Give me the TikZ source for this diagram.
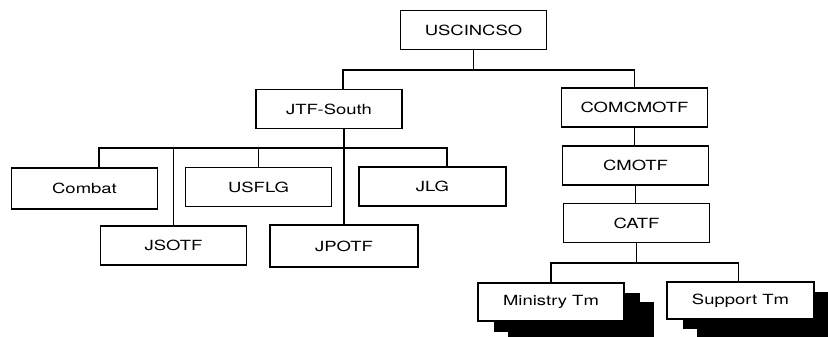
\documentclass[tikz,border=0pt]{standalone}
\usepackage{fontspec}
\setmainfont{TeX Gyre Heros}
\usepackage{graphicx}
\newcommand{\wt}[1]{\scalebox{1.32}[1]{#1}}
\begin{document}
\begin{tikzpicture}[x=1pt,y=-1pt,
  org/.style={draw, line width=1.5pt, fill=white, minimum width=146pt, minimum height=39pt, inner sep=0pt, font=\fontsize{14}{16}\selectfont},
  shad/.style={fill=black, draw=none, minimum width=146pt, minimum height=39pt, inner sep=0pt},
  link/.style={line width=1.7pt}]
\useasboundingbox (0,0) rectangle (828,337);
\clip (0,0) rectangle (828,337);
\fill[white] (0,0) rectangle (828,337);
% boxes
\node[org] (usc) at (473.5,30) {\wt{USCINCSO}};
\node[org] (jtf) at (329,109) {\wt{JTF-South}};
\node[org] (com) at (634.5,107.5) {\wt{COMCMOTF}};
\node[org] (cmo) at (635.5,165.5) {\wt{CMOTF}};
\node[org] (cat) at (636.5,223) {\wt{CATF}};
\node[org, minimum height=41pt] (cbt) at (84.5,188.5) {\wt{Combat}};
\node[org] (usf) at (258.5,187) {\wt{USFLG}};
\node[org, minimum width=147pt] (jlg) at (432.5,186.5) {\wt{JLG}};
\node[org] (jso) at (173.5,245.5) {\wt{JSOTF}};
\node[org, minimum width=148pt, minimum height=42pt] (jpo) at (344,246) {\wt{JPOTF}};
% shadowed team boxes
\node[shad] (ms2) at (581,321) {};
\node[shad] (ms1) at (567,312) {};
\node[org, minimum height=38pt] (min) at (551,302) {\wt{Ministry Tm}};
\node[shad, minimum width=147pt, minimum height=37pt] (ss2) at (770.5,319.5) {};
\node[shad, minimum width=147pt, minimum height=37pt] (ss1) at (756.5,310.5) {};
\node[org, minimum width=147pt, minimum height=37pt] (sup) at (740.5,300.5) {\wt{Support Tm}};
% connectors: top level
\coordinate (jtfT) at ([xshift=14pt]jtf.north);
\draw[link] (usc.south) -- ([yshift=19pt]usc.south |- jtfT);
\draw[link] (jtfT) -- ++(0,-19) -| (com.north);
% JTF-South children
\coordinate (cT) at ([xshift=14.5pt]cbt.north);
\coordinate (lT) at ([xshift=14.5pt]jlg.north);
\coordinate (busB) at ([yshift=19pt]cT);
\draw[link] (cT) -- (busB) -| (lT);
\draw[link] (jso.north) -- (jso.north |- busB);
\draw[link] (usf.north) -- (usf.north |- busB);
\draw[link] (jpo.north) -- (jpo.north |- jtf.south);
% right column
\draw[link] (com.south) -- (com.south |- cmo.north);
\draw[link] (cmo.south) -- (cmo.south |- cat.north);
\coordinate (busC) at ([yshift=-20pt]cat.south);
\draw[link] (cat.south) -- (busC);
\draw[link] (min.north) |- (busC) -| ([xshift=-2pt]sup.north);
\end{tikzpicture}
\end{document}
